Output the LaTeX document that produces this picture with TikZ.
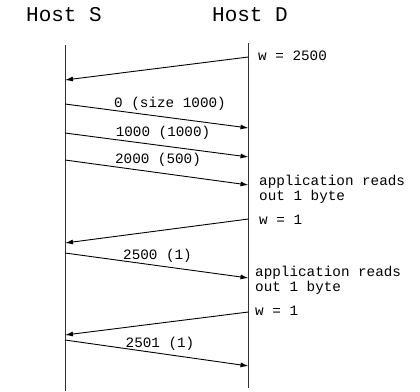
\documentclass[tikz,border=0pt]{standalone}
\usepackage{fontspec}
\setmonofont{Liberation Mono}
\usetikzlibrary{arrows.meta}
\tikzset{>={Latex[length=8,width=5]}}
\tikzstyle{host}=[font=\ttfamily\fontsize{21}{24}\selectfont,inner sep=0]
\tikzstyle{small}=[font=\ttfamily\fontsize{14.3}{15}\selectfont,inner sep=0]
\tikzstyle{note}=[small,align=left,anchor=west]
\tikzstyle{lifeline}=[line width=0.9,black!80]
\tikzstyle{msg}=[->,line width=0.9]
\def\xS{65}
\def\xD{248.5}

\begin{document}
\begin{tikzpicture}[x=1pt,y=-1pt]
  \useasboundingbox (0,0) rectangle (420,391);

  % HOSTS
  \node[host] (S) at (64,15) {Host S};
  \node[host] (D) at (250,15) {Host D};

  % LIFELINES
  \coordinate (Stop) at (\xS,45);
  \coordinate (Sbot) at (\xS,391);
  \coordinate (Dtop) at (\xD,43);
  \coordinate (Dbot) at (\xD,388);
  \draw[lifeline] (Stop) -- (Sbot);
  \draw[lifeline] (Dtop) -- (Dbot);

  % END POINTS
  \coordinate (d1) at (\xD,57);  \coordinate (s1) at (\xS,80);
  \coordinate (s2) at (\xS,104); \coordinate (d2) at (\xD,128);
  \coordinate (s3) at (\xS,133); \coordinate (d3) at (\xD,157);
  \coordinate (s4) at (\xS,160); \coordinate (d4) at (\xD,185);
  \coordinate (d5) at (\xD,219); \coordinate (s5) at (\xS,243);
  \coordinate (s6) at (\xS,253); \coordinate (d6) at (\xD,278);
  \coordinate (d7) at (\xD,312); \coordinate (s7) at (\xS,335);
  \coordinate (s8) at (\xS,340); \coordinate (d8) at (\xD,366);

  % MESSAGES
  \draw[msg] (d1) -- (s1);
  \draw[msg] (s2) -- (d2);
  \draw[msg] (s3) -- (d3);
  \draw[msg] (s4) -- (d4);
  \draw[msg] (d5) -- (s5);
  \draw[msg] (s6) -- (d6);
  \draw[msg] (d7) -- (s7);
  \draw[msg] (s8) -- (d8);

  % LABELS
  \node[small] (m2) at (170,104) {0 (size 1000)};
  \node[small] (m3) at (163,133) {1000 (1000)};
  \node[small] (m4) at (158,160) {2000 (500)};
  \node[small] (m6) at (157.5,256) {2500 (1)};
  \node[small] (m8) at (160,344) {2501 (1)};

  % NOTES
  \node[note] (w1) at (258,56) {w = 2500};
  \node[note,anchor=north west] (r1) at (259,175) {application reads\\out 1 byte};
  \node[note] (w2) at (259,220) {w = 1};
  \node[note,anchor=north west] (r2) at (255,266) {application reads\\out 1 byte};
  \node[note] (w3) at (255,311) {w = 1};

\end{tikzpicture}
\end{document}
